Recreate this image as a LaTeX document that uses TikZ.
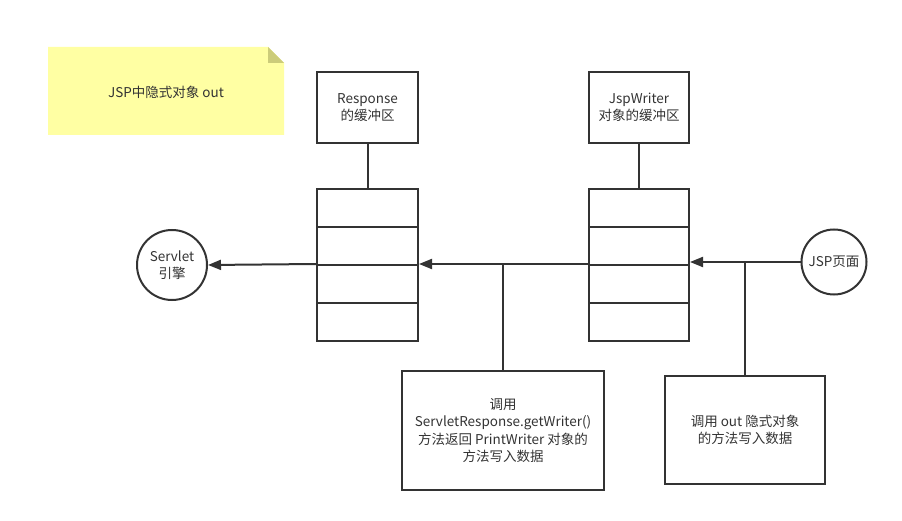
\documentclass[tikz,border=0pt]{standalone}
\usepackage{fontspec}
\setmainfont{Noto Sans CJK SC}
\usetikzlibrary{arrows.meta}
\definecolor{ink}{HTML}{333333}
\definecolor{notefill}{HTML}{FFFFA3}
\definecolor{notefold}{HTML}{CCCC7A}
\begin{document}
\begin{tikzpicture}[x=1pt,y=-1pt,
  every node/.style={font=\fontsize{13.5}{17.5}\selectfont, text=ink},
  box/.style={draw=ink, line width=2pt, align=center, inner sep=0pt},
  circ/.style={draw=ink, line width=2pt, circle, align=center, inner sep=0pt},
  conn/.style={draw=ink, line width=2pt},
  arr/.style={conn, -{Triangle[length=13pt,width=10pt]}}]
\useasboundingbox (0,0) rectangle (902,521);
% note
\fill[notefill] (48,47) -- (268,47) -- (284,63) -- (284,135) -- (48,135) -- cycle;
\fill[notefold] (268,47) -- (284,63) -- (268,63) -- cycle;
\node (note) at (166,92) {JSP中隐式对象 out};
% top boxes
\node[box, minimum width=101pt, minimum height=71pt] (resp) at (367.5,107.5) {Response\\的缓冲区};
\node[box, minimum width=100pt, minimum height=71pt] (jspw) at (639,107.5) {JspWriter\\对象的缓冲区};
% stacks
\foreach \i/\y in {1/208,2/246,3/284,4/322}{
  \node[box, minimum width=101pt, minimum height=38pt] (s1r\i) at (367.5,\y) {};
  \node[box, minimum width=100pt, minimum height=38pt] (s2r\i) at (639,\y) {};
}
\draw[conn] (resp.south) -- (s1r1.north);
\draw[conn] (jspw.south) -- (s2r1.north);
% circles
\node[circ, minimum size=70pt] (servlet) at (172,265) {Servlet\\引擎};
\node[circ, minimum size=65pt] (jsp) at (834,262) {JSP页面};
% bottom boxes
\node[box, minimum width=202pt, minimum height=119pt] (b1) at (503,430.5) {调用\\ServletResponse.getWriter()\\方法返回 PrintWriter 对象的\\方法写入数据};
\node[box, minimum width=160pt, minimum height=108pt] (b2) at (745,430) {调用 out 隐式对象\\的方法写入数据};
% connectors
\coordinate (s1L) at (s1r3.north west);
\coordinate (s1R) at (s1r3.north east);
\coordinate (s2L) at (s2r3.north west);
\coordinate (j1) at (503,265);
\coordinate (j2) at (745,262);
\draw[arr] (s1L) -- (servlet.east);
\draw[arr] (s2L) -- (s1R);
\draw[arr] (jsp.west) -- (s2r3.east |- jsp.west);
\draw[conn] (j1) -- (b1.north -| j1);
\draw[conn] (j2) -- (b2.north -| j2);
\end{tikzpicture}
\end{document}
